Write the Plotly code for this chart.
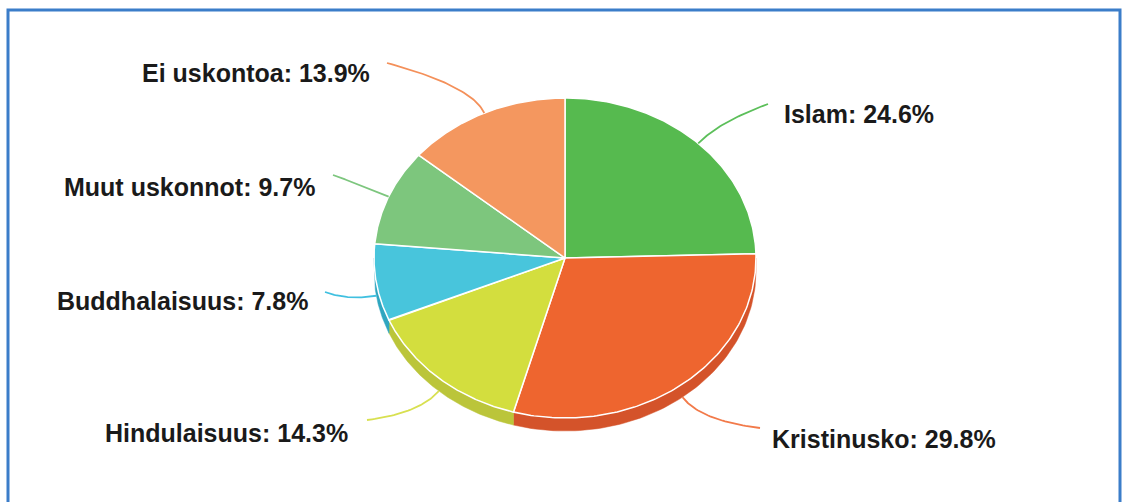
import numpy as np
import plotly.graph_objects as go

# ---- data ----
labels = ["Islam", "Kristinusko", "Hindulaisuus", "Buddhalaisuus", "Muut uskonnot", "Ei uskontoa"]
values = [24.6, 29.8, 14.3, 7.8, 9.7, 13.9]

# ---- styles ----
top_colors = ["#56BA4F", "#EE652F", "#D3DE3E", "#48C5DC", "#7DC67D", "#F4975F"]
side_colors = ["#469E40", "#D4532A", "#BBC53A", "#2FA6C0", "#67AD67", "#DA7F4A"]
line_colors = ["#5CBF5A", "#F27A4A", "#D8E050", "#40C0E0", "#7DC67E", "#F4905A"]

W, H = 1122, 502
CX, CY, RX, RY, DEPTH = 565, 258, 191, 160, 13
label_pos = [(782, 114, "left"), (770, 439, "left"), (350, 433, "right"),
             (310, 301, "right"), (317, 187, "right"), (372, 73, "right")]
leader_end = [(768, 104), (760, 428), (367, 420), (325, 292), (333, 175), (387, 63)]

FONT = dict(family="Liberation Sans, Arial, sans-serif", size=25, color="#1a1a1a", weight="bold")


def pt(theta_deg, dy=0.0):
    t = np.radians(theta_deg)
    return CX + RX * np.sin(t), CY - RY * np.cos(t) + dy


total = sum(values)
bounds = np.concatenate([[0], np.cumsum(values)]) / total * 360.0

fig = go.Figure()

# side walls (front half of the disc)
for i in range(len(values)):
    a0, a1 = max(bounds[i], 90.0), min(bounds[i + 1], 270.0)
    if a1 <= a0:
        continue
    th = np.linspace(a0, a1, 80)
    xt, yt = pt(th)
    xb, yb = pt(th[::-1], DEPTH)
    fig.add_trace(go.Scatter(
        x=np.concatenate([xt, xb, xt[:1]]), y=np.concatenate([yt, yb, yt[:1]]),
        fill="toself", fillcolor=side_colors[i], mode="lines",
        line=dict(color=side_colors[i], width=0.5), hoverinfo="skip"))

# top faces
for i in range(len(values)):
    th = np.linspace(bounds[i], bounds[i + 1], 120)
    xa, ya = pt(th)
    fig.add_trace(go.Scatter(
        x=np.concatenate([[CX], xa, [CX]]), y=np.concatenate([[CY], ya, [CY]]),
        fill="toself", fillcolor=top_colors[i], mode="lines",
        line=dict(color="white", width=1.5), hoverinfo="skip"))

# leader lines + labels
for i in range(len(values)):
    mid = (bounds[i] + bounds[i + 1]) / 2.0
    t = np.radians(mid)
    lower = 90 < mid < 270
    sx, sy = pt(mid, DEPTH if lower else 0)
    d = np.array([np.sin(t), -np.cos(t)])
    d = d / np.linalg.norm(d)
    cx_, cy_ = sx + d[0] * 30, sy + d[1] * 30
    ex, ey = leader_end[i]
    s = np.linspace(0, 1, 40)
    bx = (1 - s) ** 2 * sx + 2 * (1 - s) * s * cx_ + s ** 2 * ex
    by = (1 - s) ** 2 * sy + 2 * (1 - s) * s * cy_ + s ** 2 * ey
    fig.add_trace(go.Scatter(x=bx, y=by, mode="lines",
                             line=dict(color=line_colors[i], width=1.8), hoverinfo="skip"))
    lx, ly, anc = label_pos[i]
    fig.add_annotation(x=lx, y=ly, xref="x", yref="y", text=f"{labels[i]}: {values[i]}%",
                       showarrow=False, xanchor=anc, yanchor="middle", font=FONT)

# frame
fig.add_shape(type="rect", xref="x", yref="y", x0=8, y0=10, x1=1120, y1=510,
              line=dict(color="#3B7DC9", width=3))

fig.update_layout(
    width=W, height=H, margin=dict(l=0, r=0, t=0, b=0),
    paper_bgcolor="white", plot_bgcolor="white", showlegend=False,
    xaxis=dict(range=[0, W], visible=False, fixedrange=True),
    yaxis=dict(range=[H, 0], visible=False, fixedrange=True),
)

fig.write_html("out.html", config={"displayModeBar": False},
               post_script="document.body.style.margin='0';document.body.style.overflow='hidden';")
